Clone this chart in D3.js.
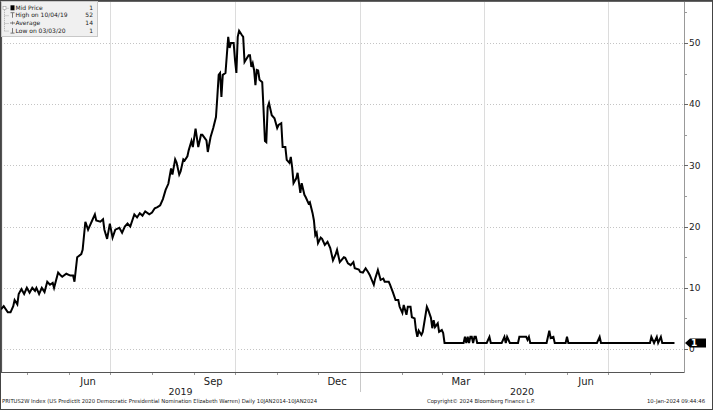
<!DOCTYPE html>
<html><head><meta charset="utf-8">
<script src="https://cdn.jsdelivr.net/npm/d3@7"></script>
<style>html,body{margin:0;padding:0;background:#fff;} svg{display:block;font-family:"DejaVu Sans",Verdana,sans-serif;}</style>
</head><body>
<svg id="chart" width="718" height="411"></svg>
<script>
// ---------------- DATA ----------------
const dates = [
"2019-04-12","2019-04-14","2019-04-17","2019-04-19","2019-04-21","2019-04-22","2019-04-24","2019-04-25","2019-04-27","2019-04-29",
"2019-05-01","2019-05-03","2019-05-05","2019-05-07","2019-05-08","2019-05-10","2019-05-12","2019-05-14","2019-05-16","2019-05-18",
"2019-05-20","2019-05-21","2019-05-24","2019-05-26","2019-05-27","2019-05-30","2019-06-02","2019-06-04","2019-06-05","2019-06-07",
"2019-06-10","2019-06-11","2019-06-13","2019-06-15","2019-06-16","2019-06-18","2019-06-20","2019-06-21","2019-06-24","2019-06-26",
"2019-06-27","2019-06-29","2019-07-01","2019-07-03","2019-07-05","2019-07-08","2019-07-10","2019-07-12","2019-07-14","2019-07-16",
"2019-07-19","2019-07-21","2019-07-23","2019-07-25","2019-07-27","2019-07-30","2019-08-01","2019-08-03","2019-08-05","2019-08-07",
"2019-08-09","2019-08-11","2019-08-13","2019-08-15","2019-08-16","2019-08-18","2019-08-19","2019-08-21","2019-08-22","2019-08-24",
"2019-08-25","2019-08-27","2019-08-28","2019-08-30","2019-08-31","2019-09-02","2019-09-03","2019-09-04","2019-09-06","2019-09-07",
"2019-09-10","2019-09-11","2019-09-13","2019-09-15","2019-09-17","2019-09-18","2019-09-19","2019-09-20","2019-09-21","2019-09-22",
"2019-09-24","2019-09-26","2019-09-27","2019-09-28","2019-09-30","2019-10-01","2019-10-02","2019-10-03","2019-10-04","2019-10-06",
"2019-10-07","2019-10-08","2019-10-11","2019-10-12","2019-10-13","2019-10-14","2019-10-15","2019-10-16","2019-10-17","2019-10-18",
"2019-10-19","2019-10-21","2019-10-22","2019-10-23","2019-10-24","2019-10-25","2019-10-26","2019-10-28","2019-10-30","2019-11-01",
"2019-11-02","2019-11-04","2019-11-05","2019-11-07","2019-11-08","2019-11-10","2019-11-11","2019-11-12","2019-11-13","2019-11-15",
"2019-11-16","2019-11-18","2019-11-19","2019-11-21","2019-11-22","2019-11-24","2019-11-25","2019-11-27","2019-11-28","2019-11-29",
"2019-11-30","2019-12-01","2019-12-03","2019-12-04","2019-12-06","2019-12-08","2019-12-10","2019-12-12","2019-12-14","2019-12-15",
"2019-12-17","2019-12-20","2019-12-21","2019-12-23","2019-12-25","2019-12-27","2019-12-28","2019-12-31","2020-01-01","2020-01-03",
"2020-01-05","2020-01-07","2020-01-08","2020-01-11","2020-01-12","2020-01-14","2020-01-16","2020-01-18","2020-01-19","2020-01-22",
"2020-01-23","2020-01-25","2020-01-27","2020-01-29","2020-01-30","2020-02-01","2020-02-02","2020-02-04","2020-02-05","2020-02-07",
"2020-02-08","2020-02-10","2020-02-11","2020-02-12","2020-02-13","2020-02-15","2020-02-16","2020-02-19","2020-02-20","2020-02-22",
"2020-02-23","2020-02-24","2020-02-25","2020-02-27","2020-02-28","2020-03-01","2020-03-02","2020-03-03","2020-03-17","2020-03-18",
"2020-03-19","2020-03-20","2020-03-21","2020-03-22","2020-03-23","2020-03-24","2020-03-25","2020-03-26","2020-03-27","2020-04-03",
"2020-04-05","2020-04-06","2020-04-14","2020-04-16","2020-04-17","2020-04-18","2020-04-20","2020-04-26","2020-04-27","2020-05-02",
"2020-05-03","2020-05-04","2020-05-05","2020-05-17","2020-05-19","2020-05-20","2020-05-22","2020-05-23","2020-05-31","2020-06-01",
"2020-06-02","2020-06-23","2020-06-25","2020-06-26","2020-08-01","2020-08-02","2020-08-04","2020-08-06","2020-08-07","2020-08-09",
"2020-08-10","2020-08-19"
];
const prices = [
6.5,7,6,6,7,8,7.3,9,9.8,9,
10,9.2,10,9.5,10,9,10,9.3,11,10.5,
10.8,10,12.5,12,11.8,12.3,12,12,11,15,
15.5,16.2,20.8,19.5,20,21,22,21,20.8,21.2,
19.5,18,20.5,18.2,19.5,19.8,19,20,20.5,20,
22,21.5,22.2,21.8,22.5,22,22.3,23,23.2,23.5,
24.5,26,27,29.5,28.5,31,30.5,28.5,29,31,
30.8,31.5,32.5,34,33,36,34.5,33,35,35,
34.1,32.2,34.6,36.1,37.9,41.2,44.8,45.1,41.2,44.8,
45.1,51,49.2,50,50,47.2,45.1,51,52,51.3,
51,46.9,48,48,46.1,46.7,45.6,43.1,45.6,45.5,
44,43.6,39,34,33.8,39.5,40.2,38.2,37.7,36.1,
36.6,36.9,33,33,30.9,30.4,31.4,29.7,27.1,27.9,
28.8,25.5,27.1,25.2,24.8,23.8,24,22.2,21,18.6,
19,17.3,18.2,18,17,17.5,16.5,14.5,15.5,16.2,
14.2,15,14.9,14,13.7,14.2,13.2,13,12.6,12.5,
13.2,12.5,12.1,10.5,11.5,12.9,11.3,11.5,11,11,
10.5,9.3,8,8,6.9,5.9,7.2,5.6,6.9,6.9,
5.2,5,3.1,2,3,2.3,2.8,6.9,6.4,5.1,
3.4,4.7,3.6,4.2,2.8,3.1,2.6,1,1,2,
1,2,1,2,2,1,2,2,1,1,
2,1,1,2,1,2,1,1,2,2,
1.5,2,1,1,3,1.8,2,1,1,2,
1,1,2,1,1,2,1,2,1,2,
1,1
];
const yTicks = [0, 10, 20, 30, 40, 50];
const yMinorTicks = [5, 15, 25, 35, 45, 55];
const monthLabelDates = ["2019-06-15", "2019-09-15", "2019-12-15", "2020-03-15", "2020-06-15"];
const yearLabels = ["2019", "2020"];
const legendLabels = ["Mid Price", "High on 10/04/19", "Average", "Low on 03/03/20"];
const legendValues = ["1", "52", "14", "1"];
const lastValueLabel = "1";
const footerTexts = [
  "PRITUS2W Index (US PredictIt 2020 Democratic Presidential Nomination Elizabeth Warren)  Daily 10JAN2014-10JAN2024",
  "Copyright\u00a9 2024 Bloomberg Finance L.P.",
  "10-Jan-2024 09:44:46"
];

// ---------------- CHART ----------------
const parse = d3.utcParse("%Y-%m-%d");
const data = dates.map((d, i) => ({date: parse(d), v: prices[i]}));
const svg = d3.select("#chart");
const P = {l: 1, r: 684, t: 2, b: 372};

const x = d3.scaleUtc().domain([parse("2019-04-12"), parse("2020-08-26")]).range([P.l, P.r]);
const y = d3.scaleLinear().domain([-3.75, 56.7]).range([P.b, P.t]);

// outer frame
svg.append("rect").attr("x", 0.5).attr("y", 0.5).attr("width", 712).attr("height", 409)
  .attr("fill", "#fff").attr("stroke", "#444").attr("stroke-width", 1);

// horizontal dotted grid
svg.append("g").selectAll("line").data(yTicks).join("line")
  .attr("x1", P.l).attr("x2", P.r)
  .attr("y1", d => Math.round(y(d)) + 0.5).attr("y2", d => Math.round(y(d)) + 0.5)
  .attr("stroke", "#c4c4c4").attr("stroke-dasharray", "1,2");

// vertical quarter grid
const quarters = d3.utcMonth.every(3).range(x.domain()[0], x.domain()[1]);
svg.append("g").selectAll("line").data(quarters).join("line")
  .attr("x1", d => Math.round(x(d)) + 0.5).attr("x2", d => Math.round(x(d)) + 0.5)
  .attr("y1", P.t).attr("y2", P.b)
  .attr("stroke", "#dcdcdc");

// month ticks along bottom
const months = d3.utcMonth.range(x.domain()[0], x.domain()[1]);
svg.append("g").selectAll("line").data(months).join("line")
  .attr("x1", d => Math.round(x(d)) + 0.5).attr("x2", d => Math.round(x(d)) + 0.5)
  .attr("y1", P.b).attr("y2", P.b + 3)
  .attr("stroke", "#999");

// year separator
const yearStarts = d3.utcYear.range(x.domain()[0], x.domain()[1]);
svg.append("g").selectAll("line").data(yearStarts).join("line")
  .attr("x1", d => Math.round(x(d)) + 0.5).attr("x2", d => Math.round(x(d)) + 0.5)
  .attr("y1", P.b).attr("y2", P.b + 20)
  .attr("stroke", "#c8c8c8");

// plot border (left, top, bottom)
svg.append("path")
  .attr("d", `M${P.l},${P.b + 0.5}H${P.r}M${P.l + 0.5},${P.t}V${P.b}`)
  .attr("stroke", "#555").attr("stroke-width", 1.2).attr("fill", "none");
svg.append("line").attr("x1", 0).attr("x2", 712).attr("y1", 1.5).attr("y2", 1.5)
  .attr("stroke", "#666");

// right axis
svg.append("line").attr("x1", P.r + 0.5).attr("x2", P.r + 0.5).attr("y1", P.t).attr("y2", P.b + 1)
  .attr("stroke", "#999");
svg.append("g").selectAll("line").data(yMinorTicks).join("line")
  .attr("x1", P.r).attr("x2", P.r + 3)
  .attr("y1", d => Math.round(y(d)) + 0.5).attr("y2", d => Math.round(y(d)) + 0.5)
  .attr("stroke", "#999");
svg.append("g").selectAll("line").data(yTicks).join("line")
  .attr("x1", P.r).attr("x2", P.r + 4)
  .attr("y1", d => Math.round(y(d)) + 0.5).attr("y2", d => Math.round(y(d)) + 0.5)
  .attr("stroke", "#666");
svg.append("g").selectAll("text").data(yTicks).join("text")
  .attr("x", P.r + 5).attr("y", d => y(d)).attr("dy", "0.36em")
  .attr("font-size", 9).attr("fill", "#222").text(d => d);

// month labels
svg.append("g").selectAll("text").data(monthLabelDates).join("text")
  .attr("x", d => x(parse(d))).attr("y", 385)
  .attr("text-anchor", "middle").attr("font-size", 10).attr("fill", "#222")
  .text(d => d3.utcFormat("%b")(parse(d)));

// year labels centered in each year's span
const yearSpans = yearLabels.map((yl, i) => {
  const s = d3.max([parse(yl + "-01-01"), x.domain()[0]]);
  const e = d3.min([parse((+yl + 1) + "-01-01"), x.domain()[1]]);
  return {label: yl, cx: (x(s) + x(e)) / 2};
});
svg.append("g").selectAll("text").data(yearSpans).join("text")
  .attr("x", d => d.cx).attr("y", 395)
  .attr("text-anchor", "middle").attr("font-size", 9.5).attr("fill", "#222")
  .text(d => d.label);

// price line
svg.append("defs").append("clipPath").attr("id", "clip")
  .append("rect").attr("x", P.l).attr("y", P.t).attr("width", P.r - P.l).attr("height", P.b - P.t);
svg.append("path").datum(data)
  .attr("clip-path", "url(#clip)")
  .attr("d", d3.line().x(d => x(d.date)).y(d => y(d.v)))
  .attr("fill", "none").attr("stroke", "#000").attr("stroke-width", 2)
  .attr("stroke-linejoin", "miter");

// last value marker
const last = data[data.length - 1];
const ly = y(last.v);
svg.append("path")
  .attr("d", `M${P.r + 1},${ly}L${P.r + 6},${ly - 4.5}H${P.r + 22}V${ly + 4.5}H${P.r + 6}Z`)
  .attr("fill", "#000");
svg.append("text").attr("x", P.r + 7).attr("y", ly).attr("dy", "0.36em")
  .attr("font-size", 9).attr("font-weight", "bold").attr("fill", "#fff").text(lastValueLabel);

// legend
const lg = svg.append("g");
lg.append("rect").attr("x", 1.5).attr("y", 1.5).attr("width", 96).attr("height", 35)
  .attr("fill", "#f0f0f0").attr("stroke", "#c8c8c8");
const rowY = [7.8, 15.2, 23, 30.6];
lg.append("line").attr("x1", 4.5).attr("x2", 4.5).attr("y1", rowY[0]).attr("y2", rowY[3])
  .attr("stroke", "#aaa").attr("stroke-dasharray", "1,1");
lg.selectAll("line.h").data(rowY).join("line").attr("class", "h")
  .attr("x1", 4.5).attr("x2", 9).attr("y1", d => d + 0.5).attr("y2", d => d + 0.5)
  .attr("stroke", "#aaa").attr("stroke-dasharray", "1,1");
lg.append("rect").attr("x", 3).attr("y", rowY[0] - 1.5).attr("width", 3).attr("height", 3)
  .attr("fill", "#fff").attr("stroke", "#999").attr("stroke-width", 0.6);
lg.append("rect").attr("x", 10.5).attr("y", rowY[0] - 2.5).attr("width", 4).attr("height", 5).attr("fill", "#000");
// high icon
lg.append("path").attr("d", `M10.5,${rowY[1] - 2.5}h4M12.5,${rowY[1] - 2.5}v5`).attr("stroke", "#777").attr("fill", "none");
// average icon
lg.append("path").attr("d", `M10,${rowY[2]}h5M12.5,${rowY[2] - 1.5}v3`).attr("stroke", "#777").attr("fill", "none");
// low icon
lg.append("path").attr("d", `M12.5,${rowY[3] - 2.5}v5M10.5,${rowY[3] + 2.5}h4`).attr("stroke", "#777").attr("fill", "none");
lg.selectAll("text.lab").data(legendLabels).join("text").attr("class", "lab")
  .attr("x", 15.5).attr("y", (d, i) => rowY[i]).attr("dy", "0.36em")
  .attr("font-size", 6).attr("fill", "#222").text(d => d);
lg.selectAll("text.val").data(legendValues).join("text").attr("class", "val")
  .attr("x", 93).attr("y", (d, i) => rowY[i]).attr("dy", "0.36em")
  .attr("text-anchor", "end").attr("font-size", 6).attr("fill", "#222").text(d => d);

// footer
const footerPos = [{x: 2, w: 315}, {x: 427, w: 108}, {x: 647, w: 58}];
svg.append("g").selectAll("text").data(footerTexts).join("text")
  .attr("x", (d, i) => footerPos[i].x).attr("y", 403)
  .attr("textLength", (d, i) => footerPos[i].w).attr("lengthAdjust", "spacingAndGlyphs")
  .attr("font-size", 5.5).attr("fill", "#222").text(d => d);
</script>
</body></html>
